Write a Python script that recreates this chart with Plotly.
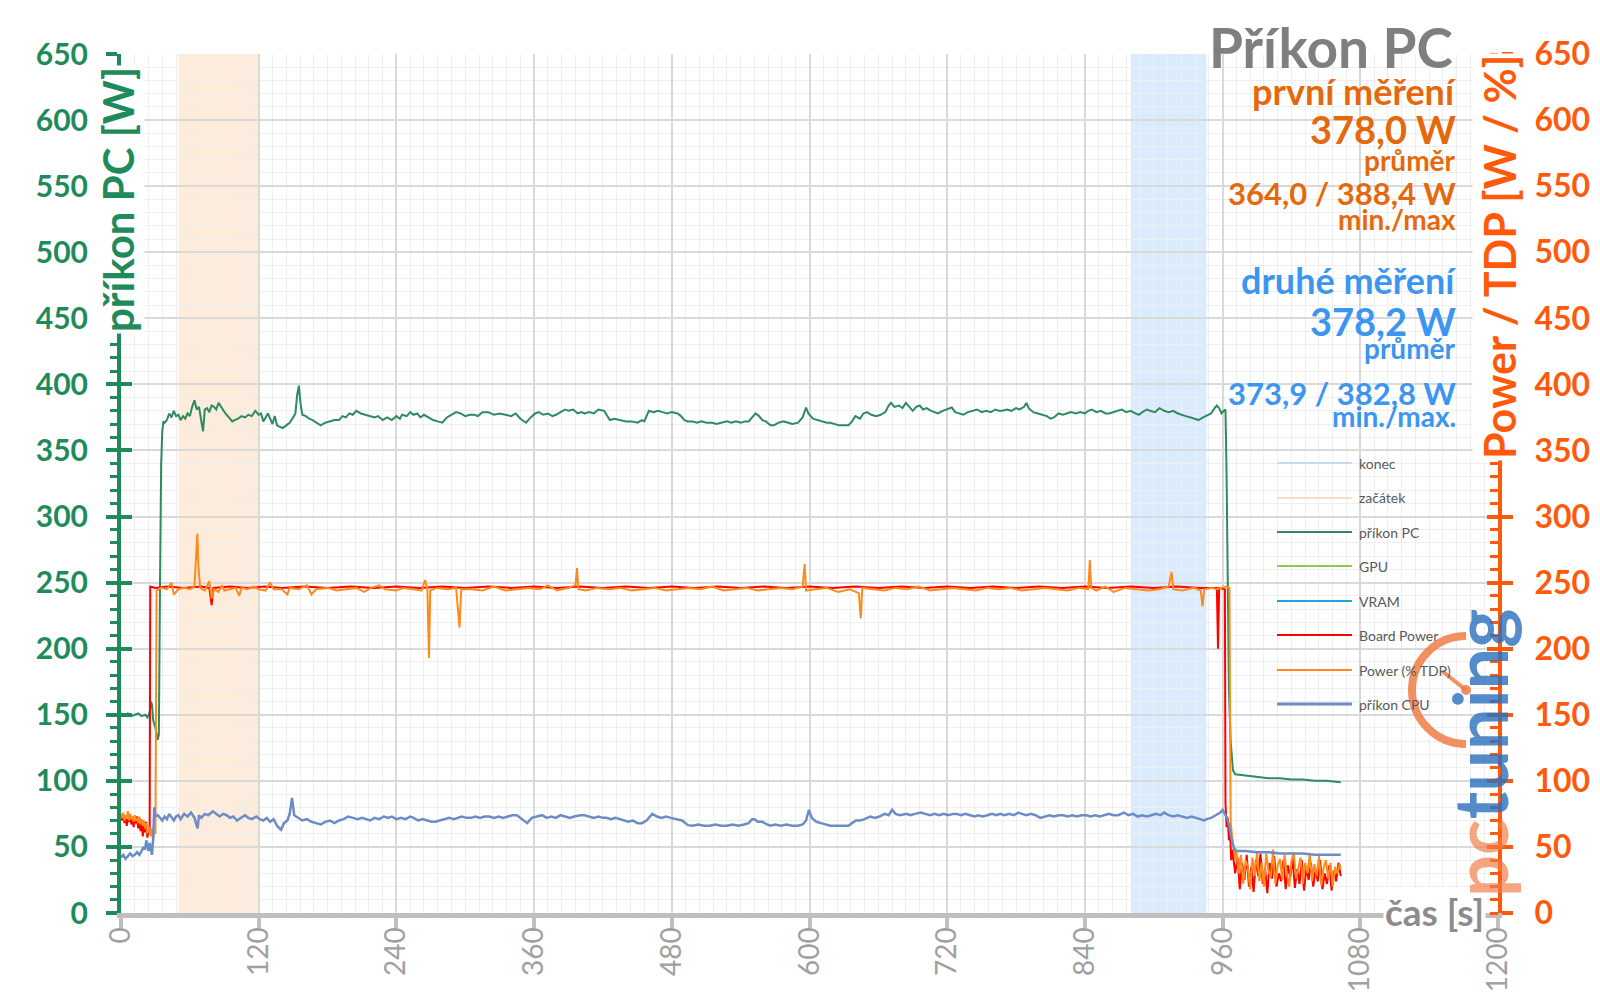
import plotly.graph_objects as go

# --- data (time in s, power in W / % TDP) ---
pc_points = [
    (0, 151), (3, 150), (6, 151), (9, 149), (12, 150), (15, 151), (18, 149), (21, 150), (23, 148), (25, 152),
    (26, 160), (27, 158), (28, 146), (30, 140), (32, 131), (33, 135), (34, 250), (35, 340), (36, 365), (37, 372),
    (38, 371), (40, 373), (42, 378), (44, 375), (46, 380), (48, 376), (50, 377), (52, 373), (54, 376), (56, 374),
    (58, 378), (60, 376), (62, 383), (64, 388), (66, 381), (68, 383), (70, 372), (71.5, 364.5), (73, 381), (75, 382),
    (77, 379), (79, 384), (81, 383), (83, 381), (85, 386), (87, 383), (89, 381), (91, 378), (94, 375), (97, 372),
    (99, 373), (102, 374), (105, 376), (108, 375), (111, 377), (114, 376), (117, 380), (120, 377), (122, 378),
    (124, 372), (126, 375), (128, 378), (130, 374), (132, 370), (134, 376), (136, 369), (138, 368), (141, 367),
    (144, 369), (147, 371), (150, 375), (152, 378), (153.5, 392), (155, 399), (156.5, 385), (158, 377), (161, 376),
    (164, 374), (167, 373), (170, 371), (174, 369), (178, 371), (182, 372), (186, 373), (190, 373), (193, 376),
    (196, 375), (199, 378), (202, 377), (205, 380), (209, 378), (213, 377), (217, 376), (221, 375), (224, 376),
    (228, 373), (232, 375), (236, 373), (240, 376), (243, 374), (245, 377), (249, 376), (252, 379), (255, 377),
    (258, 378), (261, 375), (264, 377), (268, 375), (272, 373), (276, 372), (280, 371), (284, 375), (288, 377),
    (292, 379), (296, 378), (300, 376), (304, 377), (308, 377), (311, 376), (315, 379), (320, 379), (325, 377),
    (330, 378), (335, 377), (340, 376), (344, 378), (348, 374), (353, 371), (357, 375), (361, 378), (364, 379),
    (368, 377), (372, 378), (376, 376), (379, 377), (383, 379), (387, 381), (390, 380), (394, 381), (398, 378),
    (401, 379), (404, 378), (408, 379), (412, 378), (416, 381), (421, 380), (424, 376), (426, 373), (430, 374),
    (435, 373), (440, 372), (445, 372), (450, 371), (454, 373), (456, 372), (458, 376), (460, 380), (464, 379),
    (468, 380), (472, 379), (476, 378), (480, 379), (485, 378), (488, 376), (491, 373), (494, 372), (498, 372),
    (502, 371), (506, 372), (510, 371), (515, 371), (519, 370), (524, 371), (528, 372), (532, 371), (536, 372),
    (540, 371), (544, 372), (547, 372), (550, 375), (553, 378), (556, 376), (559, 373), (562, 372), (566, 369),
    (569, 369), (573, 371), (577, 372), (581, 371), (585, 370), (590, 371), (594, 375), (597, 382.5), (599, 378),
    (603, 374), (607, 373), (611, 372), (615, 371), (618, 371), (622, 370), (626, 369), (630, 369), (634, 369),
    (637, 372), (640, 376), (644, 374), (647, 378), (650, 379), (654, 377), (658, 376), (662, 377), (666, 379),
    (669, 384), (671, 386), (674, 383), (678, 384), (681, 382), (684, 386), (687, 383), (690, 380), (693, 383),
    (696, 384), (699, 381), (702, 382), (706, 380), (709, 379), (712, 378), (716, 380), (720, 381), (724, 382.5),
    (727, 379), (731, 378), (734, 377), (738, 379), (742, 380), (746, 381), (750, 379), (754, 380), (758, 379),
    (762, 381), (765, 380), (768, 380), (772, 381), (776, 380), (780, 382), (783, 381), (787, 383), (789, 386),
    (791, 382), (795, 379), (799, 378), (803, 377), (807, 376), (810, 374), (813, 375), (817, 378), (821, 377),
    (824, 378), (828, 379), (832, 378), (836, 379), (840, 378), (843, 380), (846, 381), (850, 379), (854, 380),
    (858, 378), (861, 378), (865, 379), (869, 380), (872, 381), (876, 379), (880, 380), (884, 378), (887, 377),
    (890, 379), (894, 381), (897, 380), (901, 379), (905, 382), (909, 380), (913, 379), (917, 380), (921, 378),
    (924, 377), (928, 376), (932, 375), (936, 374), (939, 373), (943, 375), (947, 377), (950, 378), (953, 382),
    (955, 384), (957, 382), (959, 378), (961, 380), (962.5, 381), (963.5, 330), (964.5, 230), (965.5, 170),
    (967, 130), (969, 108), (971, 105), (980, 104), (990, 103), (1000, 102), (1010, 102), (1020, 101),
    (1030, 101), (1040, 100), (1050, 100), (1063, 99),
]

board_points = [
    (0, 73), (1, 70), (2, 74), (3, 68), (4, 72), (5, 66), (6, 71), (7, 69), (8, 74), (9, 67), (10, 72), (11, 65),
    (12, 70), (13, 68), (14, 73), (15, 64), (16, 70), (17, 62), (18, 68), (19, 58), (20, 66), (21, 61), (22, 69),
    (23, 57), (24, 63), (25, 60), (25.5, 247), (30, 246), (40, 247), (55, 246), (70, 247), (77, 246), (79, 233),
    (80.5, 246), (95, 247), (110, 246), (125, 247), (140, 246), (160, 247), (180, 246), (200, 247), (220, 246),
    (240, 247), (260, 246), (280, 247), (300, 246), (320, 247), (340, 246), (360, 247), (380, 246), (400, 247),
    (420, 246), (440, 247), (460, 246), (480, 247), (500, 246), (520, 247), (540, 246), (560, 247), (580, 246),
    (600, 247), (620, 246), (640, 247), (660, 246), (680, 247), (700, 246), (720, 247), (740, 246), (760, 247),
    (780, 246), (800, 247), (820, 246), (840, 247), (860, 246), (880, 247), (900, 246), (920, 247), (940, 246),
    (955, 246), (956, 200), (957, 246), (962, 245), (962.5, 83), (963.5, 65), (964.5, 72), (965.5, 55),
    (966.5, 62), (967.5, 40), (968.5, 48), (971, 30), (973, 42), (975, 18), (977, 38), (979, 25), (981, 44),
    (983, 20), (985, 35), (987, 16), (989, 40), (991, 28), (993, 45), (995, 22), (997, 34), (999, 15),
    (1001, 38), (1003, 26), (1005, 43), (1007, 20), (1009, 30), (1011, 24), (1013, 40), (1015, 18), (1017, 36),
    (1019, 27), (1021, 42), (1023, 19), (1025, 33), (1027, 22), (1029, 40), (1031, 17), (1033, 35), (1035, 25),
    (1037, 38), (1039, 20), (1041, 33), (1043, 24), (1045, 40), (1047, 18), (1049, 30), (1051, 22), (1053, 36),
    (1055, 17), (1057, 32), (1059, 24), (1061, 38), (1063, 28),
]

tdp_points = [
    (0, 75), (1, 72), (2, 76), (3, 70), (4, 74), (5, 72), (6, 77), (7, 70), (8, 75), (9, 71), (10, 73), (11, 69),
    (12, 74), (13, 70), (14, 72), (15, 68), (16, 73), (17, 67), (18, 71), (19, 66), (20, 70), (21, 64), (22, 68),
    (23, 60), (24, 66), (25, 62), (26, 58), (27, 64), (28, 55), (29, 62), (30, 60), (31, 244), (35, 246),
    (40, 245), (44, 250), (46, 241), (50, 245), (55, 246), (60, 245), (64, 247), (65.5, 270), (66.5, 287),
    (67.5, 262), (69, 246), (73, 244), (77, 251), (79, 238), (81, 245), (85, 243), (88, 248), (90, 244),
    (95, 245), (100, 246), (103, 240), (105, 246), (110, 245), (116, 247), (120, 245), (126, 244), (130, 250),
    (133, 245), (140, 245), (145, 241), (147, 246), (155, 245), (162, 248), (166, 241), (170, 245), (180, 246),
    (188, 244), (195, 245), (205, 246), (212, 243), (218, 246), (225, 248), (230, 245), (240, 244), (246, 246),
    (255, 245), (262, 244), (265, 252), (267, 245), (268.4, 193), (269.5, 244), (275, 246), (285, 245),
    (292, 246), (295, 216), (296.5, 245), (305, 245), (315, 244), (325, 247), (335, 244), (345, 245), (355, 246),
    (365, 245), (372, 248), (380, 244), (390, 246), (396, 248), (397.4, 261), (398.5, 245), (405, 244),
    (415, 246), (425, 245), (435, 246), (445, 244), (455, 245), (465, 246), (475, 244), (485, 245), (495, 246),
    (505, 245), (515, 247), (525, 244), (535, 245), (545, 246), (555, 244), (565, 245), (575, 246), (585, 245),
    (594, 247), (595.8, 264), (597, 244), (605, 245), (615, 246), (625, 243), (635, 245), (643, 242),
    (644.7, 223), (646, 246), (655, 245), (665, 244), (675, 246), (685, 245), (695, 247), (705, 244), (715, 245),
    (725, 246), (735, 245), (745, 244), (755, 246), (765, 245), (775, 246), (785, 244), (795, 245), (805, 246),
    (815, 245), (825, 244), (835, 246), (843, 245), (844.3, 267), (845.5, 246), (850, 244), (858, 247),
    (865, 243), (875, 246), (885, 245), (895, 244), (905, 245), (913, 247), (915.5, 258), (917, 245), (925, 244),
    (935, 246), (941, 244), (942.5, 232), (944, 245), (950, 246), (955, 245), (960, 246), (963, 247), (966, 246),
    (967, 70), (968, 60), (969, 52), (970, 45), (971, 40), (972, 47), (974, 30), (976, 44), (978, 22), (980, 40),
    (982, 35), (984, 18), (986, 42), (988, 28), (990, 46), (992, 24), (994, 38), (996, 20), (998, 45), (1000, 32),
    (1002, 27), (1004, 48), (1006, 22), (1008, 36), (1010, 41), (1012, 25), (1014, 44), (1016, 30), (1018, 20),
    (1020, 39), (1022, 46), (1024, 26), (1026, 35), (1028, 42), (1030, 22), (1032, 38), (1034, 30), (1036, 45),
    (1038, 24), (1040, 37), (1042, 28), (1044, 43), (1046, 21), (1048, 34), (1050, 40), (1052, 26), (1054, 38),
    (1056, 20), (1058, 35), (1060, 30), (1062, 37), (1063, 33),
]

cpu_points = [
    (0, 42), (2, 44), (4, 41), (6, 43), (8, 45), (10, 43), (12, 44), (14, 46), (16, 44), (18, 47), (19.5, 50),
    (21, 48), (22, 55), (23, 51), (24, 47), (25, 53), (26, 49), (27, 44), (28, 56), (29, 80), (30, 73), (32, 74),
    (34, 72), (36, 70), (38, 73), (40, 71), (42, 75), (44, 72), (46, 70), (48, 73), (50, 74), (52, 71), (55, 75),
    (58, 73), (61, 76), (64, 72), (66.7, 64), (68, 74), (70, 72), (73, 75), (76, 74), (80, 77), (83, 75), (86, 73),
    (89, 75), (92, 74), (95, 72), (98, 73), (101, 70), (104, 72), (108, 74), (111, 72), (114, 71), (118, 73),
    (121, 71), (124, 70), (127, 72), (130, 69), (133, 71), (136, 66), (139.5, 63), (142, 68), (145, 70), (147, 75),
    (149, 87), (151, 74), (154, 72), (158, 70), (162, 71), (166, 69), (170, 68), (174, 67), (178, 69), (182, 70),
    (186, 68), (190, 70), (194, 71), (198, 73), (202, 72), (206, 71), (210, 72), (214, 71), (217, 70), (221, 72),
    (225, 71), (229, 73), (233, 72), (236, 73), (240, 71), (244, 72), (248, 71), (252, 73), (255, 72), (259, 70),
    (263, 71), (267, 70), (271, 69), (274, 69), (278, 70), (282, 71), (286, 72), (290, 71), (293, 72), (297, 73),
    (301, 72), (305, 72), (309, 73), (313, 72), (317, 73), (321, 73), (325, 72), (329, 73), (333, 72), (337, 73),
    (341, 74), (345, 74), (349, 71), (354, 68), (358, 72), (362, 73), (367, 74), (371, 72), (375, 73), (379, 72),
    (383, 74), (387, 73), (391, 72), (395, 73), (400, 74), (404, 74), (408, 73), (412, 72), (416, 73), (420, 72),
    (423, 72), (427, 71), (431, 72), (435, 71), (439, 70), (442, 69), (446, 70), (450, 68), (454, 68), (458, 70),
    (463, 75), (467, 73), (471, 72), (475, 73), (479, 72), (485, 71), (489, 70), (494, 66.5), (498, 66), (503, 67),
    (508, 66), (513, 66), (518, 67), (523, 66), (528, 66), (533, 67), (538, 66), (543, 67), (547, 68), (550, 71),
    (552, 71), (555, 69), (559, 69), (563, 67), (566, 66), (570, 67), (575, 66), (580, 67), (585, 66), (590, 66),
    (594, 67), (597, 70), (599.5, 78), (602, 72), (606, 69), (610, 68), (614, 67), (618, 66), (622, 66), (626, 66),
    (630, 66), (634, 66), (637, 68), (640.5, 70), (644, 70), (648, 71), (653, 73), (657, 72), (661, 73),
    (665.5, 75), (669, 74), (672, 78), (675, 75), (679, 74), (684.5, 75), (688, 74), (692, 75), (697, 76),
    (701, 75), (705, 74), (709, 75), (713, 74), (717, 75), (721, 74), (725, 75), (728, 75), (732, 74), (736, 75),
    (740, 74), (744, 73), (747, 74), (751, 73), (755, 74), (759, 75), (763, 74), (766, 75), (770, 74), (774, 75),
    (778, 74), (782, 76), (785, 75), (789, 74), (793, 75), (797, 74), (801, 72), (805, 73), (809, 74), (813, 73),
    (817, 74), (821, 74), (825, 73), (829, 74), (833, 73), (837, 74), (841, 74), (845, 73), (849, 74), (853, 73),
    (857, 74), (861, 75), (865, 74), (869, 74), (874, 76), (878, 74), (882, 75), (886, 73), (890, 74), (894, 73),
    (898, 74), (902, 75), (906, 74), (909, 76), (913, 74), (917, 73), (921, 74), (925, 73), (929, 72), (933, 73),
    (937, 72), (941, 71), (944, 70), (946, 71), (950, 72), (954, 74), (958, 76), (960, 78), (962, 75), (964, 72),
    (966, 65), (968, 55), (970, 49), (972, 47), (980, 47), (990, 46), (1000, 46), (1010, 45), (1020, 45),
    (1030, 45), (1040, 44), (1050, 44), (1063, 44),
]

# measurement windows (s)
zacatek_window = [50, 120]
konec_window = [880, 946]

summary_first = ["první měření", "378,0 W", "průměr", "364,0 / 388,4 W", "min./max"]
summary_second = ["druhé měření", "378,2 W", "průměr", "373,9 / 382,8 W", "min./max."]

legend_names = ["konec", "začátek", "příkon PC", "GPU", "VRAM", "Board Power", "Power (% TDP)", "příkon CPU"]
legend_colors = ["#c6daf3", "#fbdcc4", "#2e8b5e", "#92c84a", "#1aa6e6", "#ff0000", "#ff8a1c", "#6d8cc6"]

GREEN = "#1f8b5b"
ORANGE_AX = "#ff5a0c"
ORANGE_TXT = "#e5690c"
BLUE_TXT = "#3c96f0"
GREY = "#a0a0a0"
FONT = "Lato"

# plot area on screen, in pixels; the page body adds an 8 px offset
L, R, T, B = 121, 1498, 54, 913
BODY = 8


def px(xp):
    return (xp - L) / (R - L)


def py(yp):
    return (B - yp) / (B - T)


fig = go.Figure()

series = [
    (pc_points, "příkon PC", "#2e8b5e", 2),
    (board_points, "Board Power", "#ff0000", 2),
    (tdp_points, "Power (% TDP)", "#ff8a1c", 2),
    (cpu_points, "příkon CPU", "#6d8cc6", 2.5),
]
for pts, name, color, w in series:
    t, v = zip(*pts)
    fig.add_trace(go.Scatter(x=list(t), y=list(v), mode="lines", name=name,
                             line=dict(color=color, width=w), showlegend=False))

fig.add_vrect(x0=zacatek_window[0], x1=zacatek_window[1], fillcolor="rgba(250,190,140,0.3)",
              line_width=0, layer="below")
fig.add_vrect(x0=konec_window[0], x1=konec_window[1], fillcolor="rgba(150,195,245,0.34)",
              line_width=0, layer="below")

grid_major = "#d9d9d9"
grid_minor = "#efefef"

fig.update_layout(
    width=1600, height=1008,
    margin=dict(l=L - BODY, r=1600 - R + BODY, t=T - BODY, b=1008 - B + BODY, autoexpand=False),
    paper_bgcolor="white", plot_bgcolor="white",
    font=dict(family=FONT),
    showlegend=False,
    xaxis=dict(
        range=[0, 1200], dtick=120, tick0=0, tickangle=-90, automargin=False,
        showline=True, linecolor="#bfbfbf", linewidth=5,
        ticks="outside", ticklen=10, tickwidth=4, tickcolor="#bfbfbf",
        tickfont=dict(size=28, color=GREY, family=FONT), ticklabelstandoff=-12,
        showgrid=True, gridcolor=grid_major, gridwidth=2,
        minor=dict(dtick=12, showgrid=True, gridcolor=grid_minor, gridwidth=1),
        zeroline=False,
    ),
    yaxis=dict(
        range=[0, 650], dtick=50, tick0=0, automargin=False,
        showline=True, linecolor=GREEN, linewidth=4,
        ticks="outside", ticklen=11, tickwidth=4, tickcolor=GREEN,
        tickfont=dict(size=30, color=GREEN, family=FONT, weight="bold"), ticklabelstandoff=12,
        showgrid=True, gridcolor=grid_major, gridwidth=2,
        minor=dict(dtick=10, ticks="outside", ticklen=7, tickwidth=3, tickcolor=GREEN,
                   showgrid=True, gridcolor=grid_minor, gridwidth=1),
        zeroline=False,
    ),
    yaxis3=dict(
        range=[0, 650], dtick=50, overlaying="y", side="left", anchor="x", automargin=False,
        ticks="inside", ticklen=11, tickwidth=4, tickcolor=GREEN,
        showticklabels=False, showgrid=False, zeroline=False, showline=False,
    ),
    yaxis2=dict(
        range=[0, 650], dtick=50, overlaying="y", side="right", anchor="x", automargin=False,
        showline=True, linecolor=ORANGE_AX, linewidth=4,
        ticks="outside", ticklen=11, tickwidth=4, tickcolor=ORANGE_AX,
        tickfont=dict(size=32, color=ORANGE_AX, family=FONT, weight="bold"), ticklabelstandoff=15,
        minor=dict(dtick=10, ticks="inside", ticklen=8, tickwidth=3, tickcolor=ORANGE_AX),
        showgrid=False, zeroline=False,
    ),
    yaxis4=dict(
        range=[0, 650], dtick=50, overlaying="y", side="right", anchor="x", automargin=False,
        ticks="inside", ticklen=11, tickwidth=4, tickcolor=ORANGE_AX,
        showticklabels=False, showgrid=False, zeroline=False, showline=False,
    ),
)

# invisible helpers so the overlay axes are drawn
for ax in ["y2", "y3", "y4"]:
    fig.add_trace(go.Scatter(x=[None], y=[None], yaxis=ax, showlegend=False, hoverinfo="skip"))

# manual legend (long line samples as in the source chart)
leg_y = [463, 498, 532, 566, 601, 635, 670, 704]
for name, color, yp in zip(legend_names, legend_colors, leg_y):
    fig.add_shape(type="line", xref="paper", yref="paper", x0=px(1277), x1=px(1352), y0=py(yp), y1=py(yp),
                  line=dict(color=color, width=3 if name == "příkon CPU" else 2))
    fig.add_annotation(xref="paper", yref="paper", x=px(1357), y=py(yp), text=name, showarrow=False,
                       xanchor="left", yanchor="middle", font=dict(size=14, color="#595959", family=FONT))

# title and summary block
fig.add_annotation(xref="paper", yref="paper", x=px(1455), y=py(47), text="Příkon PC", showarrow=False,
                   xanchor="right", yanchor="middle", font=dict(size=55, color="#7f7f7f", family=FONT, weight="bold"))
sizes = [36, 38, 28, 31, 28]
first_y = [91, 129, 160, 193, 219]
second_y = [280, 321, 348, 393, 416]
for txt, s, yp in zip(summary_first, sizes, first_y):
    fig.add_annotation(xref="paper", yref="paper", x=px(1458), y=py(yp), text=txt, showarrow=False,
                       xanchor="right", yanchor="middle", font=dict(size=s, color=ORANGE_TXT, family=FONT, weight="bold"))
for txt, s, yp in zip(summary_second, sizes, second_y):
    fig.add_annotation(xref="paper", yref="paper", x=px(1458), y=py(yp), text=txt, showarrow=False,
                       xanchor="right", yanchor="middle", font=dict(size=s, color=BLUE_TXT, family=FONT, weight="bold"))

# axis titles
fig.add_annotation(xref="paper", yref="paper", x=px(118), y=py(200), text="příkon PC [W]", textangle=-90,
                   showarrow=False, xanchor="center", yanchor="middle", bgcolor="white",
                   font=dict(size=42, color=GREEN, family=FONT, weight="bold"))
fig.add_annotation(xref="paper", yref="paper", x=px(1499), y=py(257), text="Power / TDP [W / %]", textangle=-90,
                   showarrow=False, xanchor="center", yanchor="middle", bgcolor="white",
                   font=dict(size=43, color=ORANGE_AX, family=FONT, weight="bold"))
fig.add_annotation(xref="paper", yref="paper", x=px(1486), y=py(911), text="čas [s]", showarrow=False,
                   xanchor="right", yanchor="middle", bgcolor="white",
                   font=dict(size=37, color="#8c8c8c", family=FONT, weight="bold"))

# pctuning watermark
wm_orange = "rgba(240,125,70,0.85)"
fig.add_shape(type="path", xref="paper", yref="paper", xsizemode="pixel", ysizemode="pixel",
              xanchor=px(1466), yanchor=py(690),
              path="M 0,54 C -29.8,54 -54,29.8 -54,0 C -54,-29.8 -29.8,-54 0,-54",
              line=dict(color=wm_orange, width=8))
fig.add_shape(type="path", xref="paper", yref="paper", xsizemode="pixel", ysizemode="pixel",
              xanchor=px(1466), yanchor=py(690), path="M -24,19 L 0,0",
              line=dict(color=wm_orange, width=4))
fig.add_shape(type="circle", xref="paper", yref="paper", xsizemode="pixel", ysizemode="pixel",
              xanchor=px(1466), yanchor=py(690), x0=-5, x1=5, y0=-5, y1=5,
              fillcolor=wm_orange, line_width=0)
fig.add_annotation(xref="paper", yref="paper", x=px(1479), y=py(753),
                   text="<span style='color:rgba(240,125,70,0.85)'>pc</span>tuning", textangle=-90,
                   showarrow=False, xanchor="center", yanchor="middle",
                   font=dict(size=74, color="rgba(40,110,190,0.8)", family=FONT, weight="bold"))

fig.write_html("out.html")
